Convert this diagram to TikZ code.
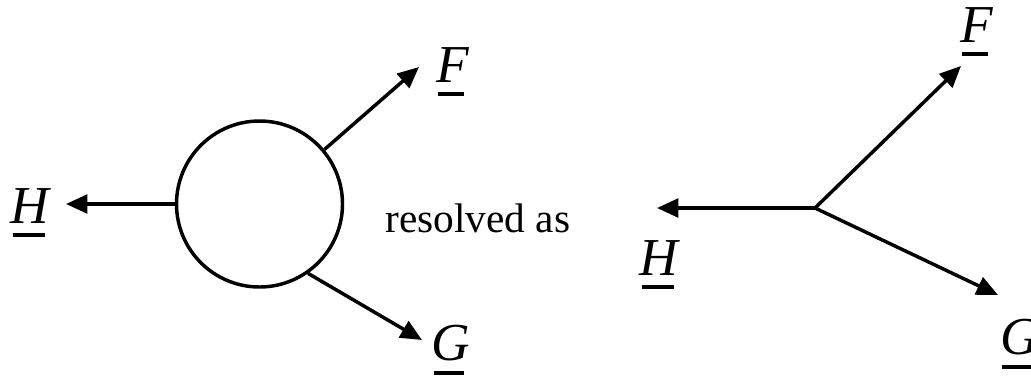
\documentclass[tikz,border=0pt]{standalone}
\usepackage{fontspec}
\setmainfont{Liberation Serif}
\usetikzlibrary{arrows.meta}
\newcommand{\vecl}[1]{\setbox0\hbox{\textit{#1}}\vtop{\offinterlineskip\copy0\kern7pt\hbox to\wd0{\hskip0.05\wd0\rule{0.78\wd0}{3pt}\hss}}}
\begin{document}
\begin{tikzpicture}[x=0.75pt,y=-0.75pt,
  arr/.style={line width=2.6pt,-{Triangle[length=16pt,width=14pt]}},
  lab/.style={font=\fontsize{40}{48}\selectfont, inner sep=0pt},
  txt/.style={font=\fontsize{31}{37}\selectfont, inner sep=0pt}]
\path[use as bounding box] (0,0) rectangle (1031,383);
% left diagram
\node[draw, circle, line width=2.6pt, minimum size=166*0.75pt, inner sep=0pt] (c) at (259.5,204) {};
\coordinate (lH) at (66,204);
\coordinate (lF) at (419,67);
\coordinate (lG) at (422,340);
\draw[arr] (c.180) -- (lH);
\draw[arr] (c.40) -- (lF);
\draw[arr] (c.-55) -- (lG);
\node[lab] (tH) at (31,213) {\vecl{H}};
\node[lab] (tF) at (453,72) {\vecl{F}};
\node[lab] (tG) at (451,350) {\vecl{G}};
% middle text
\node[txt] (res) at (478,218) {resolved as};
% right diagram
\coordinate (o) at (815,208);
\coordinate (rH) at (657,208);
\coordinate (rF) at (961,66);
\coordinate (rG) at (998,295);
\draw[arr] (o) -- (rH);
\draw[arr] (o) -- (rF);
\draw[arr] (o) -- (rG);
\node[lab] (sH) at (660,265) {\vecl{H}};
\node[lab] (sF) at (977,32) {\vecl{F}};
\node[lab, anchor=west] (sG) at (1000,344) {\vecl{G}};
\end{tikzpicture}
\end{document}
